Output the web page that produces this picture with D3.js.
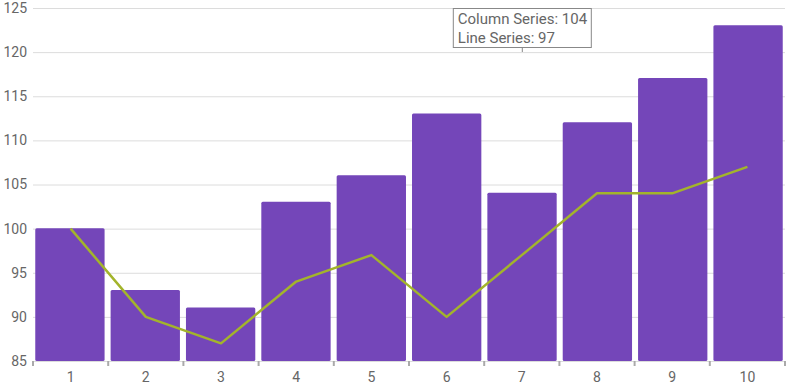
<!DOCTYPE html>
<html>
<head>
<meta charset="utf-8">
<script src="https://cdn.jsdelivr.net/npm/d3@7"></script>
<style>
  body { margin: 0; background: #fff; }
  text { font-family: Roboto, sans-serif; }
</style>
</head>
<body>
<script>
var width = 803, height = 389;
var margin = { top: 8, right: 18, bottom: 28, left: 33 };

var categories = ['1', '2', '3', '4', '5', '6', '7', '8', '9', '10'];
var columnValues = [100, 93, 91, 103, 106, 113, 104, 112, 117, 123];
var lineValues = [100, 90, 87, 94, 97, 90, 97, 104, 104, 107];
var yTicks = [85, 90, 95, 100, 105, 110, 115, 120, 125];
var tooltipIndex = 6;

var svg = d3.select('body').append('svg')
    .attr('width', width)
    .attr('height', height);

var x = d3.scaleBand()
    .domain(categories)
    .range([margin.left, width - margin.right])
    .paddingInner(0.08)
    .paddingOuter(0.03);

var xBand = d3.scaleBand()
    .domain(categories)
    .range([margin.left, width - margin.right]);

var y = d3.scaleLinear()
    .domain([85, 125])
    .range([height - margin.bottom, margin.top]);

// grid
svg.append('g')
    .selectAll('line')
    .data(yTicks)
    .enter()
    .append('line')
    .attr('x1', margin.left)
    .attr('x2', width - margin.right)
    .attr('y1', function(d) { return y(d) + 0.5; })
    .attr('y2', function(d) { return y(d) + 0.5; })
    .attr('stroke', '#dcdcdc')
    .attr('stroke-width', 1);

// y labels
svg.append('g')
    .selectAll('text')
    .data(yTicks)
    .enter()
    .append('text')
    .attr('x', margin.left - 6)
    .attr('y', function(d) { return y(d); })
    .attr('dy', '0.35em')
    .attr('text-anchor', 'end')
    .attr('fill', '#666')
    .style('font-size', '14px')
    .text(function(d) { return d; });

// bars
svg.append('g')
    .selectAll('rect')
    .data(columnValues)
    .enter()
    .append('rect')
    .attr('x', function(d, i) { return x(categories[i]); })
    .attr('width', x.bandwidth())
    .attr('y', function(d) { return y(d) - 0.5; })
    .attr('height', function(d) { return y(85) - y(d) + 0.5; })
    .attr('rx', 1.5)
    .attr('fill', '#7446b9');

// x ticks at band edges
var edges = categories.map(function(c) { return xBand(c); }).concat([width - margin.right]);
svg.append('g')
    .selectAll('line')
    .data(edges)
    .enter()
    .append('line')
    .attr('x1', function(d) { return d; })
    .attr('x2', function(d) { return d; })
    .attr('y1', y(85))
    .attr('y2', y(85) + 5)
    .attr('stroke', '#aaa')
    .attr('stroke-width', 2);

// x labels
svg.append('g')
    .selectAll('text')
    .data(categories)
    .enter()
    .append('text')
    .attr('x', function(d) { return xBand(d) + xBand.bandwidth() / 2; })
    .attr('y', y(85) + 21)
    .attr('text-anchor', 'middle')
    .attr('fill', '#666')
    .style('font-size', '14px')
    .text(function(d) { return d; });

// line series
var line = d3.line()
    .x(function(d, i) { return xBand(categories[i]) + xBand.bandwidth() / 2; })
    .y(function(d) { return y(d); });

svg.append('path')
    .datum(lineValues)
    .attr('d', line)
    .attr('fill', 'none')
    .attr('stroke', '#a3b42b')
    .attr('stroke-width', 2.5)
    .attr('stroke-linejoin', 'round');

// tooltip
var tipX = xBand(categories[tooltipIndex]) + xBand.bandwidth() / 2;
var tip = svg.append('g');
var tipW = 138, tipH = 39, tipLeft = tipX - 69, tipTop = 8;
tip.append('rect')
    .attr('x', tipLeft + 0.5)
    .attr('y', tipTop + 0.5)
    .attr('width', tipW)
    .attr('height', tipH)
    .attr('fill', '#fff')
    .attr('stroke', '#888')
    .attr('stroke-width', 1);
tip.append('line')
    .attr('x1', tipX + 0.5)
    .attr('x2', tipX + 0.5)
    .attr('y1', tipTop + tipH)
    .attr('y2', tipTop + tipH + 5)
    .attr('stroke', '#888');
tip.append('text')
    .attr('x', tipLeft + 5)
    .attr('y', tipTop + 16)
    .attr('fill', '#666')
    .style('font-size', '15px')
    .text('Column Series: ' + columnValues[tooltipIndex]);
tip.append('text')
    .attr('x', tipLeft + 5)
    .attr('y', tipTop + 35)
    .attr('fill', '#666')
    .style('font-size', '15px')
    .text('Line Series: ' + lineValues[tooltipIndex]);
</script>
</body>
</html>
